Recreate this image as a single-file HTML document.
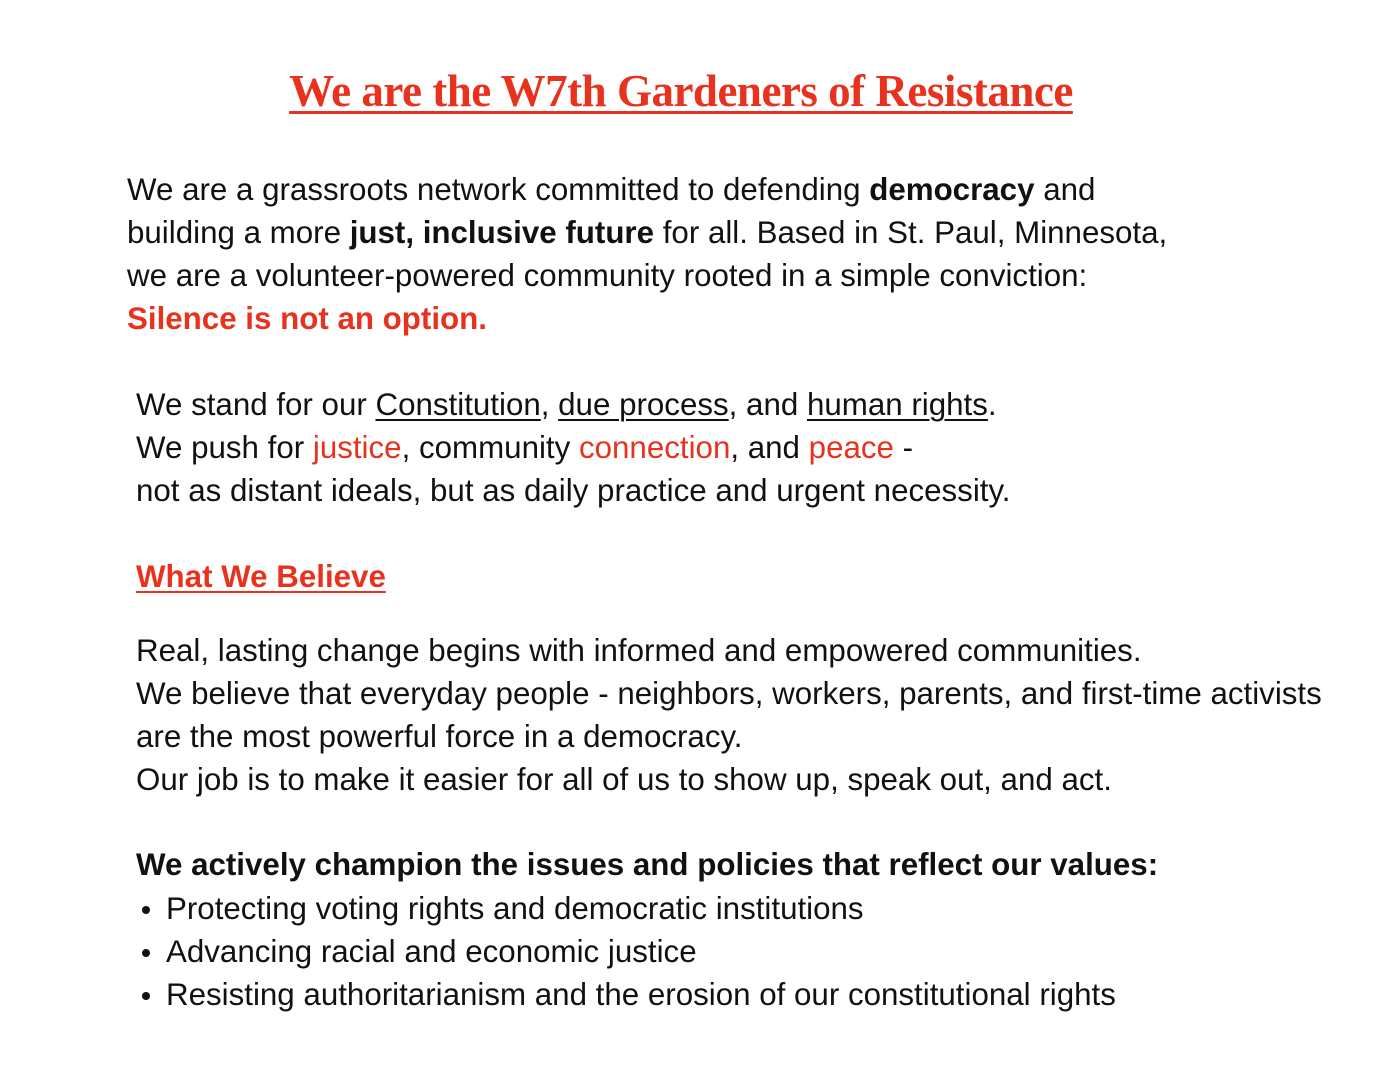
<!DOCTYPE html>
<html><head><meta charset="utf-8"><style>
html,body{margin:0;padding:0;background:#fff;width:1391px;height:1091px;overflow:hidden}
body{font-family:"Liberation Sans",sans-serif;color:#111;font-size:31.3px;position:relative}
.l{position:absolute;left:136px;height:43px;line-height:43px;white-space:nowrap}
.a{left:127px}
.r{color:#e8321e}
u{text-decoration-thickness:2px;text-underline-offset:4px}
.t{position:absolute;left:0;width:1362px;text-align:center;top:65px;line-height:52px;font-family:"Liberation Serif",serif;font-weight:bold;font-size:45px;color:#e8321e;letter-spacing:-0.5px}
.t span{text-decoration:underline;text-decoration-thickness:3px;text-underline-offset:5px}
.b{position:absolute;left:142px;width:8px;height:8px;border-radius:50%;background:#111}
</style></head><body>
<div class="t"><span>We are the W7th Gardeners of Resistance</span></div>
<div class="l a" style="top:168px">We are a grassroots network committed to defending <b>democracy</b> and</div>
<div class="l a" style="top:211px">building a more <b>just, inclusive future</b> for all. Based in St. Paul, Minnesota,</div>
<div class="l a" style="top:254px">we are a volunteer-powered community rooted in a simple conviction:</div>
<div class="l a r" style="top:297px"><b>Silence is not an option.</b></div>
<div class="l" style="top:383px">We stand for our <u>Constitution</u>, <u>due process</u>, and <u>human rights</u>.</div>
<div class="l" style="top:426px">We push for <span class="r">justice</span>, community <span class="r">connection</span>, and <span class="r">peace</span> -</div>
<div class="l" style="top:469px">not as distant ideals, but as daily practice and urgent necessity.</div>
<div class="l r" style="top:555px"><b><u>What We Believe</u></b></div>
<div class="l" style="top:629px">Real, lasting change begins with informed and empowered communities.</div>
<div class="l" style="top:672px">We believe that everyday people - neighbors, workers, parents, and first-time activists</div>
<div class="l" style="top:715px">are the most powerful force in a democracy.</div>
<div class="l" style="top:758px">Our job is to make it easier for all of us to show up, speak out, and act.</div>
<div class="l" style="top:843px"><b>We actively champion the issues and policies that reflect our values:</b></div>
<div class="b" style="top:906px"></div><div class="l" style="left:166px;top:887px">Protecting voting rights and democratic institutions</div>
<div class="b" style="top:949px"></div><div class="l" style="left:166px;top:930px">Advancing racial and economic justice</div>
<div class="b" style="top:992px"></div><div class="l" style="left:166px;top:973px">Resisting authoritarianism and the erosion of our constitutional rights</div>
</body></html>
